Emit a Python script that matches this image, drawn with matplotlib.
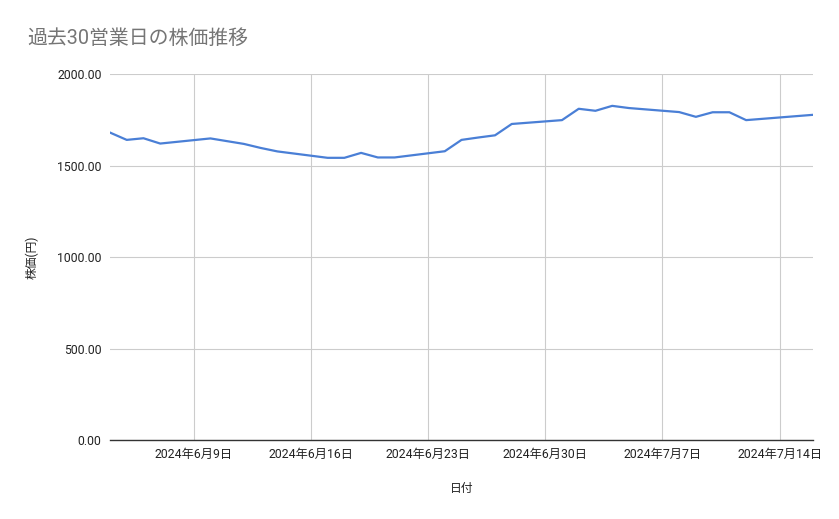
import datetime as dt
import matplotlib
matplotlib.use("Agg")
import matplotlib.pyplot as plt
import matplotlib.dates as mdates
from matplotlib.ticker import FixedLocator, FuncFormatter

plt.rcParams['font.family'] = ['Roboto', 'Noto Sans CJK JP', 'DejaVu Sans']

# 営業日と終値
days = ["2024-06-04", "2024-06-05", "2024-06-06", "2024-06-07",
        "2024-06-10", "2024-06-11", "2024-06-12", "2024-06-13", "2024-06-14",
        "2024-06-17", "2024-06-18", "2024-06-19", "2024-06-20", "2024-06-21",
        "2024-06-24", "2024-06-25", "2024-06-26", "2024-06-27", "2024-06-28",
        "2024-07-01", "2024-07-02", "2024-07-03", "2024-07-04", "2024-07-05",
        "2024-07-08", "2024-07-09", "2024-07-10", "2024-07-11", "2024-07-12",
        "2024-07-16"]
price = [1680, 1640, 1649, 1620,
         1648, 1633, 1618, 1596, 1577,
         1542, 1542, 1569, 1544, 1544,
         1578, 1640, 1653, 1665, 1727,
         1748, 1810, 1799, 1826, 1814,
         1792, 1766, 1791, 1791, 1748,
         1777]
tick_days = ["2024-06-09", "2024-06-16", "2024-06-23", "2024-06-30",
             "2024-07-07", "2024-07-14"]
yticks = [0, 500, 1000, 1500, 2000]

x = [dt.datetime.strptime(d, "%Y-%m-%d") for d in days]
xt = [mdates.date2num(dt.datetime.strptime(d, "%Y-%m-%d")) for d in tick_days]


def date_label(v, p):
    d = mdates.num2date(v)
    return f"{d.year}年{d.month}月{d.day}日"


fig = plt.figure(figsize=(8.39, 5.19), dpi=100)
ax = fig.add_axes([0.1311, 0.1522, 0.8380, 0.7052])

ax.plot(x, price, color="#4a7fd6", lw=1.6, solid_joinstyle="round", zorder=3)

ax.set_xlim(mdates.date2num(x[0]), mdates.date2num(x[-1]))
ax.set_ylim(0, 2000)
ax.xaxis.set_major_locator(FixedLocator(xt))
ax.xaxis.set_major_formatter(FuncFormatter(date_label))
ax.set_yticks(yticks)
ax.yaxis.set_major_formatter(FuncFormatter(lambda v, p: "%.2f" % v))

ax.grid(True, color="#cccccc", lw=0.8)
ax.set_axisbelow(True)
for s in ["top", "right", "left"]:
    ax.spines[s].set_visible(False)
ax.spines["bottom"].set_color("#333333")
ax.spines["bottom"].set_linewidth(1.0)
ax.spines["bottom"].set_zorder(4)
ax.tick_params(length=0, labelsize=8.8, colors="#222222")
ax.tick_params(axis="y", pad=6)
ax.tick_params(axis="x", pad=6)

ax.set_xlabel("日付", fontsize=8.5, color="#222222", labelpad=15)
ax.set_ylabel("株価(円)", fontsize=8.5, color="#222222", labelpad=13)

fig.text(0.032, 0.925, "過去30営業日の株価推移", fontsize=14.3, color="#757575",
         va="center", ha="left")

fig.savefig("out.png", dpi=100)
